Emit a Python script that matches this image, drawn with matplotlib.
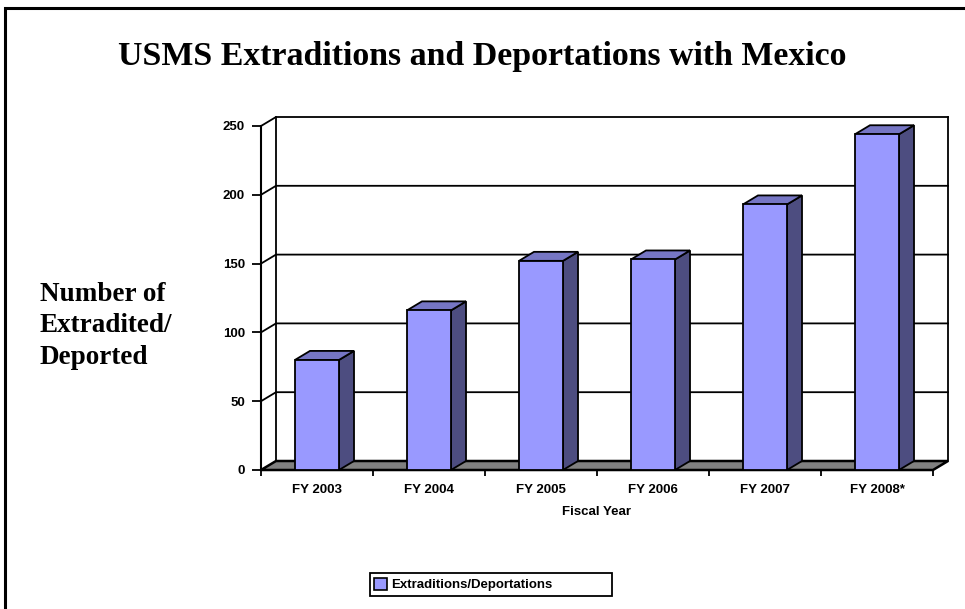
import numpy as np
import matplotlib
matplotlib.use("Agg")
import matplotlib.pyplot as plt
from matplotlib.patches import Polygon, Rectangle, Patch

# values
years = ["FY 2003", "FY 2004", "FY 2005", "FY 2006", "FY 2007", "FY 2008*"]
counts = [80, 116, 152, 153, 193, 244]
yticks = [0, 50, 100, 150, 200, 250]

FRONT = "#9999FF"
SIDE = "#4D4D80"
TOP = "#7676C4"
FLOOR = "#808080"
SANS = "Liberation Sans"
SERIF = "Liberation Serif"

fig = plt.figure(figsize=(9.65, 6.09), dpi=100)
ax = fig.add_axes([261 / 965, 139 / 609, 672 / 965, 344 / 609])
n = len(years)
ax.set_xlim(0, n)
ax.set_ylim(0, yticks[-1])
for s in ax.spines.values():
    s.set_visible(False)
ax.patch.set_visible(False)

# depth of the 3d box (15 px right, 9 px up) in data units
o = ax.transData.transform((0, 0))
dx, dy = ax.transData.inverted().transform(o + np.array([15, 9]))

# gridlines on side wall and back wall
for t in yticks[1:]:
    ax.plot([0, dx, n + dx], [t, t + dy, t + dy], color="black", lw=1.3,
            clip_on=False, zorder=1)
ax.plot([dx, dx], [dy, yticks[-1] + dy], color="black", lw=1.3, clip_on=False, zorder=1)
ax.plot([n + dx, n + dx], [dy, yticks[-1] + dy], color="black", lw=1.3, clip_on=False, zorder=1)
ax.plot([0, 0], [0, yticks[-1]], color="black", lw=1.5, clip_on=False, zorder=1)

# floor
ax.add_patch(Polygon([(0, 0), (n, 0), (n + dx, dy), (dx, dy)], closed=True,
                     fc=FLOOR, ec="black", lw=1.8, clip_on=False, zorder=2))

w = 0.393
for i, v in enumerate(counts):
    x0 = i + 0.5 - w / 2
    x1 = x0 + w
    z = 3 + i
    ax.add_patch(Polygon([(x1, 0), (x1 + dx, dy), (x1 + dx, v + dy), (x1, v)],
                         fc=SIDE, ec="black", lw=1.3, clip_on=False, zorder=z))
    ax.add_patch(Polygon([(x0, v), (x1, v), (x1 + dx, v + dy), (x0 + dx, v + dy)],
                         fc=TOP, ec="black", lw=1.3, clip_on=False, zorder=z))
    ax.add_patch(Polygon([(x0, 0), (x1, 0), (x1, v), (x0, v)],
                         fc=FRONT, ec="black", lw=1.3, clip_on=False, zorder=z))

ax.set_yticks(yticks, labels=[str(t) for t in yticks], fontsize=9.5,
              fontweight="bold", family=SANS)
ax.tick_params(axis="y", length=6.5, width=1.3, pad=5)
ax.set_xticks(range(n + 1), labels=[])
ax.set_xticks(np.arange(n) + 0.5, labels=years, minor=True, fontsize=9.5,
              fontweight="bold", family=SANS)
ax.tick_params(axis="x", which="major", length=4.5, width=1.3)
ax.tick_params(axis="x", which="minor", length=0, pad=10)
ax.set_xlabel("Fiscal Year", fontsize=9.5, fontweight="bold", family=SANS, labelpad=7.5)

fig.text(0.5, 1 - 57 / 609, "USMS Extraditions and Deportations with Mexico",
         ha="center", va="center", fontsize=24.4, fontweight="bold", family=SERIF)
fig.text(40 / 965, 1 - 326 / 609, "Number of\nExtradited/\nDeported",
         ha="left", va="center", multialignment="left", fontsize=19.5,
         fontweight="bold", family=SERIF, linespacing=1.35)

leg = fig.legend(handles=[Patch(fc=FRONT, ec="black", lw=1.2, label="Extraditions/Deportations")],
                 loc="center left", mode="expand",
                 bbox_to_anchor=(363 / 965, 1 - 598 / 609, 256 / 965, 27 / 609),
                 fancybox=False, framealpha=1, edgecolor="black", borderpad=0.35,
                 handlelength=1.0, handleheight=1.0, handletextpad=0.3,
                 prop={"family": SANS, "weight": "bold", "size": 9.5})
leg.get_frame().set_linewidth(1.3)

# outer frame (left and top edges show)
fig.add_artist(Rectangle((4.5 / 965, -0.1), 1.2, 1.1 - 8.5 / 609,
                         transform=fig.transFigure, fill=False, ec="black", lw=2.2))

fig.savefig("out.png", dpi=100)
